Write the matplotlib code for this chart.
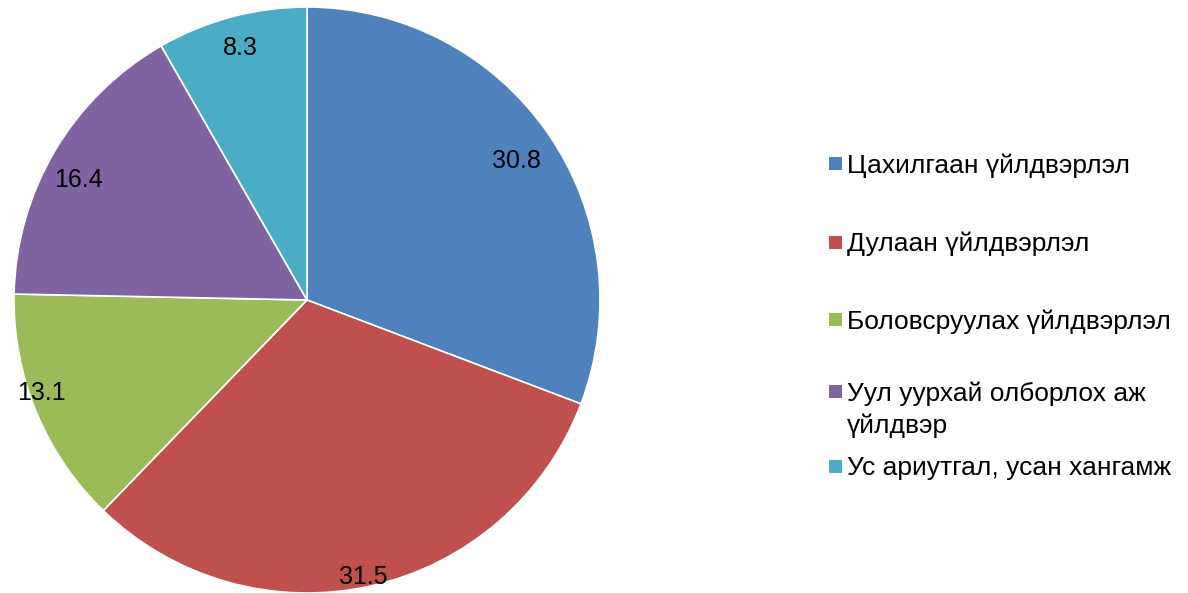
import numpy as np
import matplotlib
matplotlib.use("Agg")
import matplotlib.pyplot as plt
from matplotlib.patches import Rectangle

plt.rcParams['font.family'] = ['Liberation Sans', 'DejaVu Sans']

categories = [
    "Цахилгаан үйлдвэрлэл",
    "Дулаан үйлдвэрлэл",
    "Боловсруулах үйлдвэрлэл",
    "Уул уурхай олборлох аж\nүйлдвэр",
    "Ус ариутгал, усан хангамж",
]
values = [30.8, 31.5, 13.1, 16.4, 8.3]
colors = ["#4F81BD", "#C0504D", "#9BBB59", "#8064A2", "#4BACC6"]

# label placement (Excel "best fit" look): radius fraction and angle nudge
label_r = [0.86, 0.965, 0.96, 0.88, 0.89]
label_da = [-1, -1.2, -3, 3, 0]
# legend entry y positions in pixels from top
legend_y = [163, 242, 320, 392, 466]

W, H = 1188, 593
fig = plt.figure(figsize=(W / 100, H / 100), dpi=100)

cx, cy, r = 307, 300, 293
ax = fig.add_axes([(cx - r) / W, (H - cy - r) / H, 2 * r / W, 2 * r / H])
wedges, _ = ax.pie(values, colors=colors, startangle=90, counterclock=False,
                   wedgeprops=dict(edgecolor="white", linewidth=1.2))
ax.set_aspect("equal")
ax.set_xlim(-1, 1)
ax.set_ylim(-1, 1)

for w, v, lr, da in zip(wedges, values, label_r, label_da):
    ang = np.deg2rad((w.theta1 + w.theta2) / 2 + da)
    ax.text(lr * np.cos(ang), lr * np.sin(ang), f"{v:.1f}",
            ha="center", va="center", fontsize=18, color="black")

for lab, col, y in zip(categories, colors, legend_y):
    fy = 1 - y / H
    fig.patches.append(Rectangle((829 / W, fy - 6.5 / H), 13 / W, 13 / H,
                                 transform=fig.transFigure, facecolor=col,
                                 edgecolor="none"))
    for k, line in enumerate(lab.split("\n")):
        fig.text(847 / W, fy - (9.5 + 31 * k) / H, line, ha="left",
                 va="baseline", fontsize=19, color="black")

fig.savefig("out.png", dpi=100)
